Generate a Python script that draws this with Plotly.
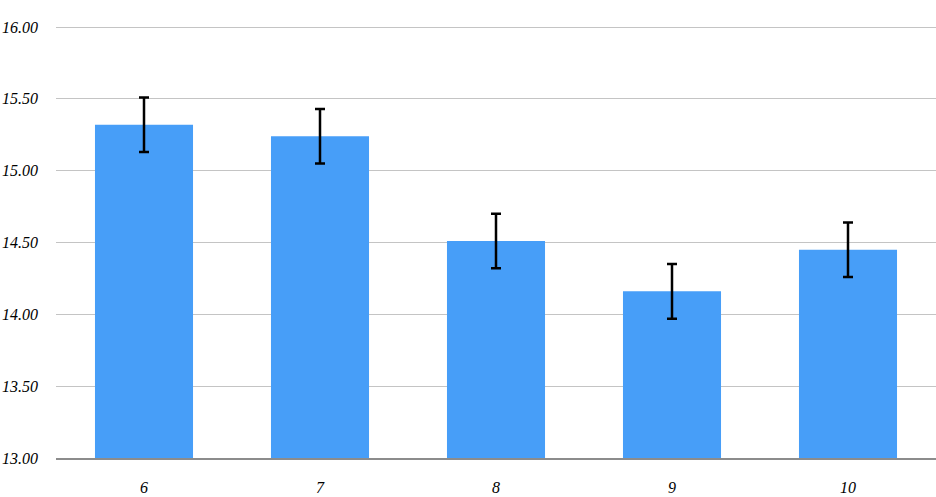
import plotly.graph_objects as go

categories = ["6", "7", "8", "9", "10"]
values = [15.32, 15.24, 14.51, 14.16, 14.45]
errors = [0.19, 0.19, 0.19, 0.19, 0.19]
tick_vals = [13.0, 13.5, 14.0, 14.5, 15.0, 15.5, 16.0]
tick_text = ["13.00", "13.50", "14.00", "14.50", "15.00", "15.50", "16.00"]

fig = go.Figure(go.Bar(
    x=categories, y=values,
    marker=dict(color="#479ef8", line=dict(width=0)),
    width=0.557,
    error_y=dict(type="data", array=errors, visible=True, color="black", thickness=2.5, width=5),
))

fig.update_layout(
    width=936, height=497,
    margin=dict(l=56, r=0, t=26, b=39, autoexpand=False),
    plot_bgcolor="white", paper_bgcolor="white",
    showlegend=False,
    font=dict(family="Liberation Serif", size=16, color="black", style="italic"),
    bargap=0.443,
)
fig.update_xaxes(
    showgrid=False, showline=True, linecolor="#8c8c8c", linewidth=1.5,
    ticks="", tickfont=dict(family="Liberation Serif", size=16, style="italic"),
    ticklabelstandoff=14, automargin=False,
)
fig.update_yaxes(
    range=[13, 16.007], tickvals=tick_vals, ticktext=tick_text,
    showgrid=True, gridcolor="#c4c4c4", gridwidth=1,
    zeroline=False, showline=False, ticks="",
    tickfont=dict(family="Liberation Serif", size=16, style="italic"),
    ticklabelstandoff=17, automargin=False,
)

fig.write_html(
    "out.html",
    config={"displayModeBar": False},
    post_script="document.body.style.margin='0';document.body.style.overflow='hidden';",
)
